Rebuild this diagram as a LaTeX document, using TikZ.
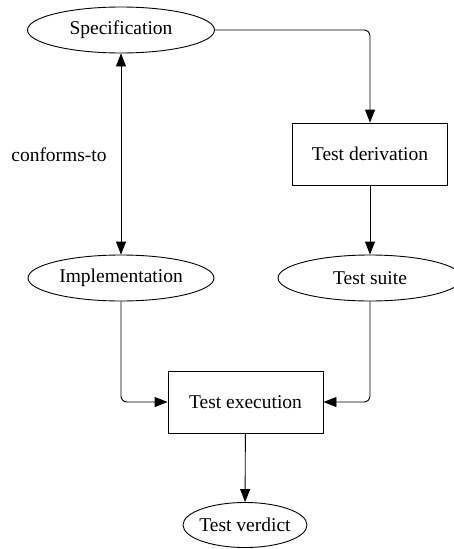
\documentclass[tikz,border=0pt]{standalone}
\usepackage{fontspec}
\setmainfont{Liberation Serif}
\usetikzlibrary{arrows.meta,shapes.geometric,positioning}

\begin{document}
\begin{tikzpicture}[x=1pt,y=-1pt,
    every node/.style={font=\fontsize{19.5}{22}\selectfont},
    artefact/.style={draw, ellipse, line width=.9pt, inner sep=0pt, minimum height=46pt},
    activity/.style={draw, rectangle, line width=.9pt, minimum width=155pt, minimum height=62pt},
    flow/.style={line width=.9pt, -{Triangle[length=13pt,width=10pt]}, rounded corners=6pt}]
        \useasboundingbox (0,0) rectangle (454,549);
        % artefacts and activities
        \node[artefact, minimum width=187pt] (spec) at (121,30) {Specification};
        \node[activity] (deriv) at (370,154) {Test derivation};
        \node[artefact, minimum width=186pt] (impl) at (121,278) {Implementation};
        \node[artefact, minimum width=184pt] (suite) at (370,278) {Test suite};
        \node[activity] (exec) at (245.5,402) {Test execution};
        \node[artefact, minimum width=124pt, minimum height=45pt, inner xsep=-2pt] (verdict) at (245,525) {Test verdict};
        \node (conf) at (59,155) {conforms-to};
        % flows
        \draw[flow, {Triangle[length=13pt,width=10pt]}-{Triangle[length=13pt,width=10pt]}] (impl) -- (spec);
        \draw[flow] (spec.east) -| (deriv.north);
        \draw[flow] (deriv) -- (suite);
        \draw[flow] (impl.south) |- (exec.west);
        \draw[flow] (suite.south) |- (exec.east);
        \draw[flow] (exec) -- (verdict);
\end{tikzpicture}
\end{document}
